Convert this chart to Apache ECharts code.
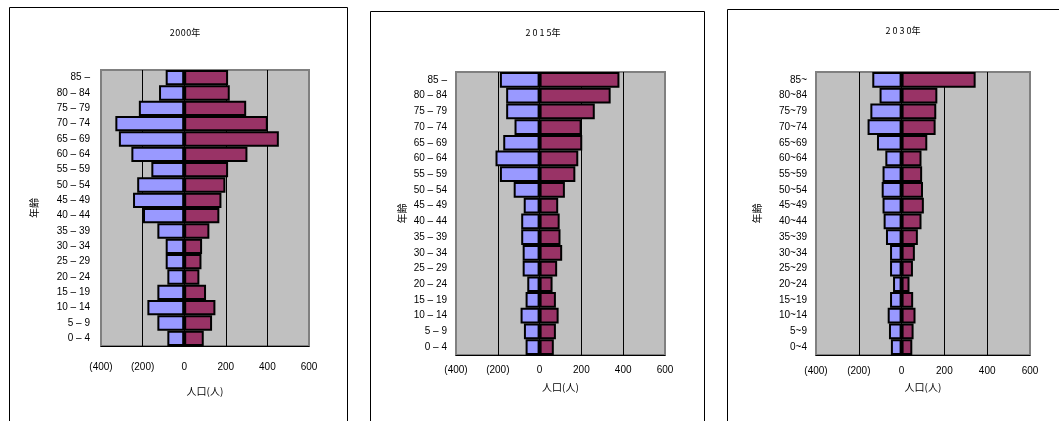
<!DOCTYPE html>
<html>
<head>
<meta charset="utf-8">
<script src="https://cdn.jsdelivr.net/npm/echarts@6/dist/echarts.min.js"></script>
<style>
  html, body { margin: 0; padding: 0; background: #ffffff; }
  #chart { width: 1059px; height: 421px; }
</style>
</head>
<body>
<div id="chart"></div>
<script>
// Age groups, top row first
const agesDash = ['85 –', '80 – 84', '75 – 79', '70 – 74', '65 – 69', '60 – 64', '55 – 59', '50 – 54', '45 – 49',
  '40 – 44', '35 – 39', '30 – 34', '25 – 29', '20 – 24', '15 – 19', '10 – 14', '5 – 9', '0 – 4'];
const agesTilde = ['85~', '80~84', '75~79', '70~74', '65~69', '60~64', '55~59', '50~54', '45~49',
  '40~44', '35~39', '30~34', '25~29', '20~24', '15~19', '10~14', '5~9', '0~4'];

const years = ['2\u200a0\u200a0\u200a0年', '2 0 1 5年', '2 0 3 0年'];

// Population per age group (persons); left side drawn as negatives
const male2000 = [89, 121, 218, 331, 314, 254, 158, 226, 246, 198, 129, 89, 89, 81, 129, 177, 129, 81];
const female2000 = [211, 219, 298, 402, 455, 304, 211, 198, 179, 169, 121, 86, 83, 73, 105, 150, 134, 94];
const male2015 = [190, 160, 160, 120, 174, 211, 190, 124, 76, 88, 88, 81, 81, 59, 67, 91, 75, 67];
const female2015 = [382, 340, 264, 201, 204, 185, 171, 121, 89, 96, 100, 108, 84, 62, 78, 91, 78, 68];
const male2030 = [137, 103, 146, 159, 115, 76, 89, 93, 89, 84, 73, 54, 54, 40, 54, 65, 59, 50];
const female2030 = [346, 167, 162, 159, 120, 93, 96, 100, 104, 93, 76, 62, 53, 37, 54, 65, 56, 50];

const xTicks = { min: -400, max: 600, interval: 200 };

const panels = [
  { cats: agesDash, left: male2000, right: female2000, grid: { left: 101, top: 70, width: 208, height: 276 },
    titleX: 180, titleY: 23, yNameGap: 62, yLabelMargin: 11, xNameGap: 40, xLabelMargin: 16 },
  { cats: agesDash, left: male2015, right: female2015, grid: { left: 456, top: 72, width: 209, height: 283 },
    titleX: 538, titleY: 23, yNameGap: 49, yLabelMargin: 9, xNameGap: 27, xLabelMargin: 10 },
  { cats: agesTilde, left: male2030, right: female2030, grid: { left: 816, top: 72, width: 214, height: 283 },
    titleX: 898, titleY: 21, yNameGap: 54, yLabelMargin: 9, xNameGap: 27, xLabelMargin: 11 }
];

const labelFont = { fontFamily: 'Liberation Sans, Arial, sans-serif', fontSize: 10, color: '#000' };
const cjkFont = 'Noto Sans CJK JP';

const option = {
  animation: false,
  backgroundColor: '#ffffff',
  title: panels.map((p, i) => ({
    text: years[i],
    left: p.titleX,
    top: p.titleY,
    textAlign: 'center',
    textStyle: { fontFamily: cjkFont, fontSize: 9, fontWeight: 'normal', color: '#000' }
  })),
  graphic: [
    { type: 'rect', shape: { x: 9.5, y: 7.5, width: 338, height: 430 }, style: { fill: 'none', stroke: '#000', lineWidth: 1 } },
    { type: 'rect', shape: { x: 370.5, y: 11.5, width: 334, height: 430 }, style: { fill: 'none', stroke: '#000', lineWidth: 1 } },
    { type: 'rect', shape: { x: 727.5, y: 9.5, width: 340, height: 430 }, style: { fill: 'none', stroke: '#000', lineWidth: 1 } }
  ],
  grid: panels.map(p => Object.assign({
    show: true, backgroundColor: '#C0C0C0', borderColor: '#808080', borderWidth: 2, containLabel: false
  }, p.grid)),
  xAxis: panels.map((p, i) => ({
    type: 'value',
    gridIndex: i,
    min: xTicks.min, max: xTicks.max, interval: xTicks.interval,
    name: '人口(人)',
    nameLocation: 'middle',
    nameGap: p.xNameGap,
    nameTextStyle: { fontFamily: cjkFont, fontSize: 10, color: '#000' },
    axisLine: { show: true, onZero: false, lineStyle: { color: '#000', width: 1 } },
    axisTick: { show: false },
    axisLabel: Object.assign({
      margin: p.xLabelMargin,
      formatter: v => v < 0 ? '(' + (-v) + ')' : String(v)
    }, labelFont),
    splitLine: { show: true, showMinLine: false, showMaxLine: false, lineStyle: { color: '#000', width: 1 } }
  })),
  yAxis: panels.map((p, i) => ({
    type: 'category',
    gridIndex: i,
    inverse: true,
    data: p.cats,
    name: '年齢',
    nameLocation: 'middle',
    nameRotate: 90,
    nameGap: p.yNameGap,
    nameTextStyle: { fontFamily: cjkFont, fontSize: 10, color: '#000' },
    axisLine: { show: false },
    axisTick: { show: false },
    axisLabel: Object.assign({ margin: p.yLabelMargin, interval: 0 }, labelFont),
    splitLine: { show: false }
  })),
  series: panels.flatMap((p, i) => [
    {
      name: '男性', type: 'bar', xAxisIndex: i, yAxisIndex: i,
      data: p.left.map(v => -v),
      barCategoryGap: 0, barGap: '-100%',
      itemStyle: { color: '#9999FF', borderColor: '#000', borderWidth: 2 }
    },
    {
      name: '女性', type: 'bar', xAxisIndex: i, yAxisIndex: i,
      data: p.right,
      barCategoryGap: 0, barGap: '-100%',
      itemStyle: { color: '#993366', borderColor: '#000', borderWidth: 2 }
    }
  ])
};

echarts.init(document.getElementById('chart'), null, { renderer: 'canvas' }).setOption(option);
</script>
</body>
</html>
